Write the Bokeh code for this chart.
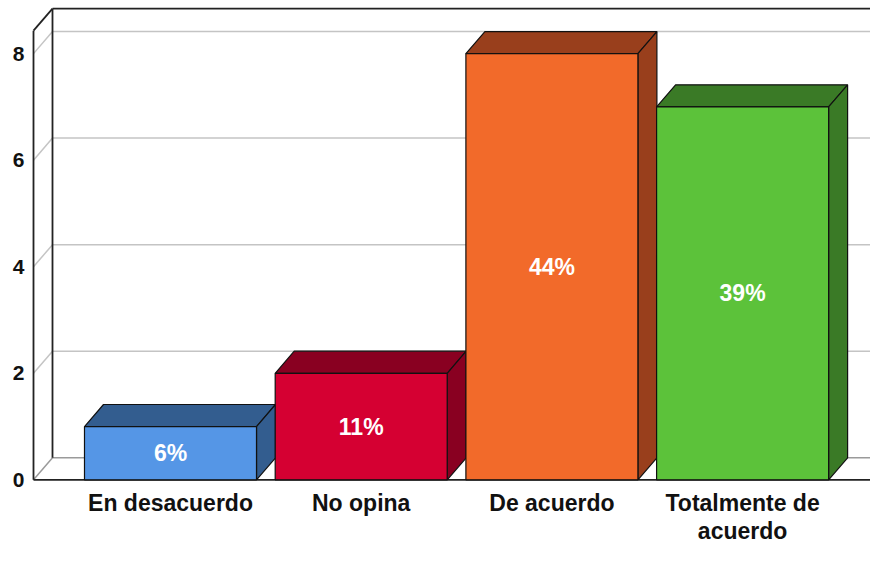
from bokeh.plotting import figure
from bokeh.models import Range1d, FixedTicker
from bokeh.core.properties import value
from bokeh.embed import file_html
from bokeh.resources import INLINE

# ---- data ----
categories = ["En desacuerdo", "No opina", "De acuerdo", "Totalmente de\nacuerdo"]
counts = [1, 2, 8, 7]
pct_labels = ["6%", "11%", "44%", "39%"]
y_ticks = [0, 2, 4, 6, 8]
front_colors = ["#5596E6", "#D50032", "#F26A2A", "#5CC23A"]
side_colors = ["#335D8F", "#890021", "#993F1C", "#3A7A26"]

# ---- geometry ----
W, H = 870, 546
PX = 190.7                 # px per category unit
S = 0.96                   # vertical squeeze to fit the page
PY = 55.5 * S              # px per value unit
BASE = 8 + (507 - 16) * S  # pixel row of value 0
DX = 19 / PX               # depth offset x (data units)
DY = 23 * S / PY           # depth offset y (data units)
BW = 0.902                 # bar width
X0 = (33 - 170) / PX       # front axis x
XR = (879 - 170) / PX      # floor right
YTOP = 8.43                # axis box top
FONT = "Liberation Sans"

p = figure(width=W, height=H, output_backend="svg", toolbar_location=None,
           x_range=Range1d((31 - 170) / PX, (W - 170) / PX),
           y_range=Range1d((BASE - H) / PY, BASE / PY),
           min_border_left=31, min_border_right=0, min_border_top=0,
           min_border_bottom=0, outline_line_color=None)
p.xaxis.visible = False
p.xgrid.visible = False
p.ygrid.visible = False
p.yaxis.ticker = FixedTicker(ticks=y_ticks)
p.yaxis.axis_line_color = None
p.yaxis.major_tick_line_color = None
p.yaxis.minor_tick_line_color = None
p.yaxis.major_tick_out = 0
p.yaxis.major_tick_in = 0
p.yaxis.major_label_standoff = 7
p.yaxis.major_label_text_font = FONT
p.yaxis.major_label_text_font_size = "21px"
p.yaxis.major_label_text_font_style = "bold"
p.yaxis.major_label_text_color = "#111111"

GRID = "#C4C4C4"
DARK = "#222222"

# gridlines on back wall and side wall
for v in y_ticks:
    col = "#9A9A9A" if v == 0 else GRID
    p.segment(x0=X0 + DX, y0=v + DY, x1=XR + DX, y1=v + DY, line_color=col, line_width=1.5)
    p.segment(x0=X0, y0=v, x1=X0 + DX, y1=v + DY, line_color=col, line_width=1.5)

# box outline
p.segment(x0=[X0, X0, X0 + DX, X0 + DX, X0, XR],
          y0=[0, YTOP, DY, YTOP + DY, 0, 0],
          x1=[X0, X0 + DX, X0 + DX, XR + DX + 1, XR, XR + DX],
          y1=[YTOP, YTOP + DY, YTOP + DY, YTOP + DY, 0, DY],
          line_color=DARK, line_width=1.8)

# bars
xs = list(range(len(categories)))
for i, (c, fc, sc) in enumerate(zip(counts, front_colors, side_colors)):
    l, r = i - BW / 2, i + BW / 2
    p.patch([l, l + DX, r + DX, r], [c, c + DY, c + DY, c],
            fill_color=sc, line_color="#111111", line_width=1.2)
    p.patch([r, r + DX, r + DX, r], [0, DY, c + DY, c],
            fill_color=sc, line_color="#111111", line_width=1.2)
    p.quad(left=l, right=r, bottom=0, top=c,
           fill_color=fc, line_color="#111111", line_width=1.2)

p.text(x=xs, y=[c / 2 for c in counts], text=pct_labels,
       text_color="white", text_font=value(FONT), text_font_size="23px",
       text_font_style="bold", text_align="center", text_baseline="middle")

label_y = (BASE - (8 + (518 - 16) * S)) / PY
p.text(x=xs, y=[label_y] * len(xs), text=categories,
       text_color="#111111", text_font=value(FONT), text_font_size="23px",
       text_font_style="bold", text_align="center", text_baseline="top",
       text_line_height=1.08)

open("out.html", "w").write(file_html(p, INLINE))
